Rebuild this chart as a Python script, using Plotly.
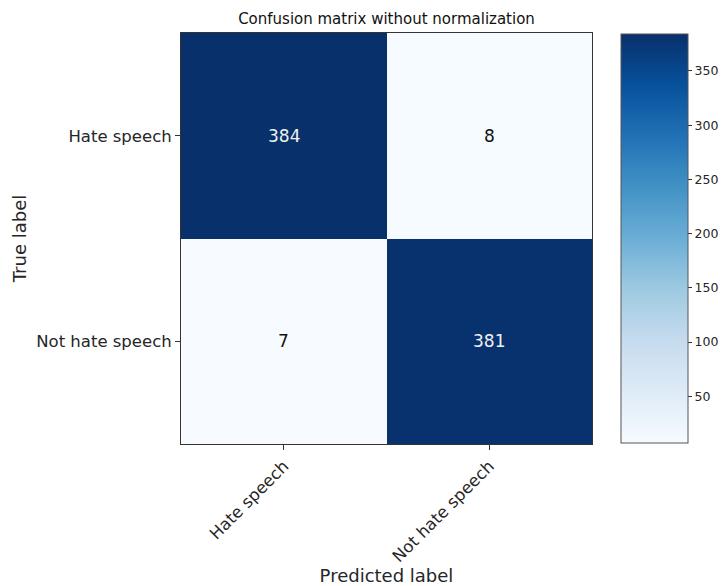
import plotly.graph_objects as go

classes = ["Hate speech", "Not hate speech"]
true_labels = ["Hate speech", "Not hate speech"]
matrix = [[384, 8], [7, 381]]
cbar_ticks = [50, 100, 150, 200, 250, 300, 350]

blues = ["#f7fbff", "#deebf7", "#c6dbef", "#9ecae1", "#6baed6",
         "#4292c6", "#2171b5", "#08519c", "#08306b"]
cscale = [[i / (len(blues) - 1), c] for i, c in enumerate(blues)]

zmin = min(min(r) for r in matrix)
zmax = max(max(r) for r in matrix)

fig = go.Figure(go.Heatmap(
    z=matrix, x=classes, y=true_labels,
    colorscale=cscale, zmin=zmin, zmax=zmax,
    showscale=True,
    colorbar=dict(
        xref="container", x=621 / 724, xanchor="left",
        yref="paper", y=0.5, yanchor="middle",
        thickness=67, thicknessmode="pixels",
        len=409, lenmode="pixels",
        outlinecolor="#555", outlinewidth=1,
        tickvals=cbar_ticks, ticks="outside", ticklen=4,
        tickcolor="#333", tickfont=dict(size=12.5, color="#262626"),
        xpad=0, ypad=0,
    ),
    hoverinfo="skip",
))

thresh = zmax / 2
for i, row in enumerate(matrix):
    for j, v in enumerate(row):
        fig.add_annotation(
            x=classes[j], y=true_labels[i], text=str(v), showarrow=False,
            font=dict(size=17, color="#f0f0f0" if v > thresh else "#111111",
                      family="DejaVu Sans"),
        )

fig.update_layout(
    width=724, height=586,
    margin=dict(l=181, r=132, t=33, b=142),
    paper_bgcolor="white", plot_bgcolor="white",
    font=dict(family="DejaVu Sans", color="#262626"),
    title=dict(text="Confusion matrix without normalization",
               x=(181 + 592) / 2 / 724, xanchor="center",
               y=1 - 19 / 586, yanchor="middle",
               font=dict(size=15, color="#111")),
)
fig.update_xaxes(
    automargin=False,
    tickangle=-45, tickfont=dict(size=16.5, color="#262626"),
    ticks="outside", ticklen=5, tickcolor="#333",
    showline=True, mirror=True, linecolor="#333", linewidth=1,
    showgrid=False, zeroline=False,
    title=dict(text="Predicted label", font=dict(size=18, color="#262626"), standoff=4),
)
fig.update_yaxes(
    automargin=False,
    autorange="reversed", tickfont=dict(size=16.5, color="#262626"),
    ticks="outside", ticklen=5, tickcolor="#333",
    showline=True, mirror=True, linecolor="#333", linewidth=1,
    showgrid=False, zeroline=False,
    title=dict(text="True label", font=dict(size=18, color="#262626"), standoff=4),
)

fig.write_html("out.html")
